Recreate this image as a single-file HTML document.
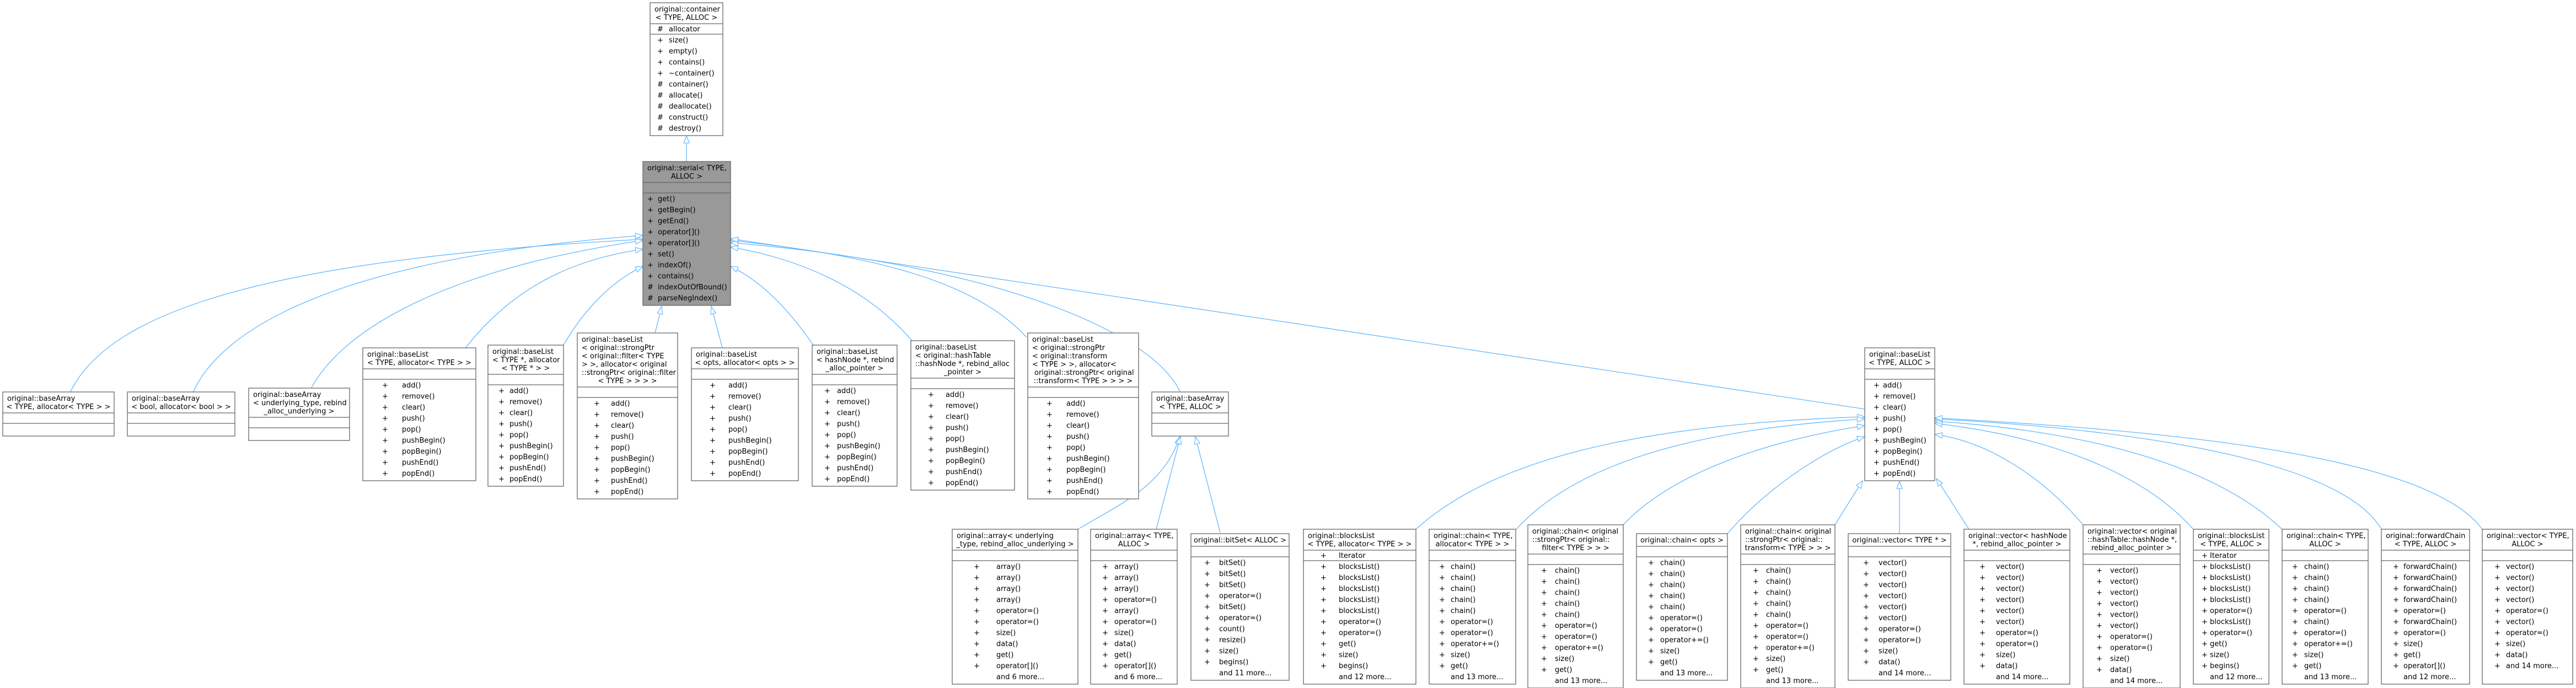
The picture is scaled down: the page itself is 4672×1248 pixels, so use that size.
<!DOCTYPE html>
<html><head><meta charset="utf-8"><style>
html,body{margin:0;padding:0;background:#fff;}
svg{display:block;}
text{font-family:"DejaVu Sans","Liberation Sans",sans-serif;font-size:13px;fill:#000;}
.b{fill:#fff;stroke:#666;stroke-width:1.3;}
.s{fill:#999;stroke:#666;stroke-width:1.3;}
.l{stroke:#666;stroke-width:1.3;}
.e{fill:none;stroke:#63b8ff;stroke-width:1.3;}
.c{text-anchor:middle;}
</style></head><body>
<svg width="4672" height="1248" viewBox="0 0 4672 1248" xmlns="http://www.w3.org/2000/svg">
<defs><marker id="a" markerUnits="userSpaceOnUse" markerWidth="16" markerHeight="12" refX="14" refY="5.5" orient="auto"><path d="M0.5,0.5 L14,5.5 L0.5,10.5 z" fill="#fff" stroke="#63b8ff" stroke-width="1.2"/></marker></defs>

<!-- edges -->
<g class="e" marker-end="url(#a)">
<path class="e" marker-end="url(#a)" d="M1245,293 L1245,246"/>
<path class="e" marker-end="url(#a)" d="M127,712 C200,560 500,470 1166,434"/>
<path class="e" marker-end="url(#a)" d="M350,712 C400,600 600,470 1166,427"/>
<path class="e" marker-end="url(#a)" d="M564,705 C620,600 800,490 1166,436"/>
<path class="e" marker-end="url(#a)" d="M842,634 C930,520 1040,470 1166,452"/>
<path class="e" marker-end="url(#a)" d="M1022,626 C1060,560 1110,510 1166,483"/>
<path class="e" marker-end="url(#a)" d="M1188,604 L1200,556"/>
<path class="e" marker-end="url(#a)" d="M1311,634 L1290,556"/>
<path class="e" marker-end="url(#a)" d="M1475,626 C1430,560 1380,510 1325,483"/>
<path class="e" marker-end="url(#a)" d="M1654,618 C1570,520 1450,470 1325,448"/>
<path class="e" marker-end="url(#a)" d="M1862,612 C1760,500 1550,460 1325,436"/>
<path class="e" marker-end="url(#a)" d="M2141,712 C2090,600 1800,480 1325,440"/>
<path class="e" marker-end="url(#a)" d="M3382,742 L1325,433"/>
<path class="e" marker-end="url(#a)" d="M1955,960 C2040,910 2110,880 2140,792"/>
<path class="e" marker-end="url(#a)" d="M2097,960 L2141,792"/>
<path class="e" marker-end="url(#a)" d="M2213,966 L2168,792"/>
<path class="e" marker-end="url(#a)" d="M2568,960 C2700,840 2950,770 3382,756"/>
<path class="e" marker-end="url(#a)" d="M2750,960 C2850,850 3050,780 3382,760"/>
<path class="e" marker-end="url(#a)" d="M2944,952 C3030,860 3200,800 3382,772"/>
<path class="e" marker-end="url(#a)" d="M3133,968 C3200,890 3300,820 3382,792"/>
<path class="e" marker-end="url(#a)" d="M3328,952 L3378,872"/>
<path class="e" marker-end="url(#a)" d="M3445,968 L3445,873"/>
<path class="e" marker-end="url(#a)" d="M3571,960 L3512,868"/>
<path class="e" marker-end="url(#a)" d="M3778,952 C3700,860 3600,800 3509,788"/>
<path class="e" marker-end="url(#a)" d="M3978,960 C3880,850 3700,790 3509,768"/>
<path class="e" marker-end="url(#a)" d="M4139,960 C4000,830 3750,780 3509,764"/>
<path class="e" marker-end="url(#a)" d="M4319,960 C4250,840 3900,780 3509,760"/>
<path class="e" marker-end="url(#a)" d="M4502,960 C4400,820 3900,780 3509,758"/>
</g>

<!-- container -->
<rect class="b" x="1179" y="5" width="132" height="241"/>
<line class="l" x1="1179" y1="43" x2="1311" y2="43"/><line class="l" x1="1179" y1="62" x2="1311" y2="62"/>
<text x="1187" y="21">original::container</text><text class="c" x="1245" y="36">&lt; TYPE, ALLOC &gt;</text>
<text x="1192" y="57">#</text><text x="1213" y="57">allocator</text>
<text><tspan x="1192" y="77">+</tspan><tspan x="1192" dy="20">+</tspan><tspan x="1192" dy="20">+</tspan><tspan x="1192" dy="20">+</tspan><tspan x="1192" dy="20">#</tspan><tspan x="1192" dy="20">#</tspan><tspan x="1192" dy="20">#</tspan><tspan x="1192" dy="20">#</tspan><tspan x="1192" dy="20">#</tspan></text>
<text><tspan x="1213" y="77">size()</tspan><tspan x="1213" dy="20">empty()</tspan><tspan x="1213" dy="20">contains()</tspan><tspan x="1213" dy="20">~container()</tspan><tspan x="1213" dy="20">container()</tspan><tspan x="1213" dy="20">allocate()</tspan><tspan x="1213" dy="20">deallocate()</tspan><tspan x="1213" dy="20">construct()</tspan><tspan x="1213" dy="20">destroy()</tspan></text>

<!-- serial -->
<rect class="s" x="1166" y="293" width="159" height="261"/>
<line class="l" x1="1166" y1="331" x2="1325" y2="331"/><line class="l" x1="1166" y1="350" x2="1325" y2="350"/>
<text x="1174" y="309">original::serial&lt; TYPE,</text><text class="c" x="1245.5" y="324">ALLOC &gt;</text>
<text><tspan x="1174" y="365">+</tspan><tspan x="1174" dy="20">+</tspan><tspan x="1174" dy="20">+</tspan><tspan x="1174" dy="20">+</tspan><tspan x="1174" dy="20">+</tspan><tspan x="1174" dy="20">+</tspan><tspan x="1174" dy="20">+</tspan><tspan x="1174" dy="20">+</tspan><tspan x="1174" dy="20">#</tspan><tspan x="1174" dy="20">#</tspan></text>
<text><tspan x="1193" y="365">get()</tspan><tspan x="1193" dy="20">getBegin()</tspan><tspan x="1193" dy="20">getEnd()</tspan><tspan x="1193" dy="20">operator[]()</tspan><tspan x="1193" dy="20">operator[]()</tspan><tspan x="1193" dy="20">set()</tspan><tspan x="1193" dy="20">indexOf()</tspan><tspan x="1193" dy="20">contains()</tspan><tspan x="1193" dy="20">indexOutOfBound()</tspan><tspan x="1193" dy="20">parseNegIndex()</tspan></text>

<!-- baseArray row1 -->
<rect class="b" x="5" y="711" width="202" height="80"/><line class="l" x1="5" y1="749" x2="207" y2="749"/><line class="l" x1="5" y1="768" x2="207" y2="768"/>
<text x="13" y="727">original::baseArray</text><text class="c" x="106" y="742">&lt; TYPE, allocator&lt; TYPE &gt; &gt;</text>
<rect class="b" x="231" y="711" width="195" height="80"/><line class="l" x1="231" y1="749" x2="426" y2="749"/><line class="l" x1="231" y1="768" x2="426" y2="768"/>
<text x="239" y="727">original::baseArray</text><text class="c" x="328.5" y="742">&lt; bool, allocator&lt; bool &gt; &gt;</text>
<rect class="b" x="451" y="704" width="183" height="95"/><line class="l" x1="451" y1="757" x2="634" y2="757"/><line class="l" x1="451" y1="776" x2="634" y2="776"/>
<text x="459" y="720">original::baseArray</text><text x="459" y="735">&lt; underlying_type, rebind</text><text class="c" x="542.5" y="750">_alloc_underlying &gt;</text>
<rect class="b" x="2089" y="711" width="139" height="80"/><line class="l" x1="2089" y1="749" x2="2228" y2="749"/><line class="l" x1="2089" y1="768" x2="2228" y2="768"/>
<text x="2097" y="727">original::baseArray</text><text class="c" x="2158.5" y="742">&lt; TYPE, ALLOC &gt;</text>

<!-- L1 -->
<rect class="b" x="658" y="631" width="205" height="241"/><line class="l" x1="658" y1="669" x2="863" y2="669"/><line class="l" x1="658" y1="688" x2="863" y2="688"/>
<text x="666" y="647">original::baseList</text><text class="c" x="760.5" y="662">&lt; TYPE, allocator&lt; TYPE &gt; &gt;</text>
<text><tspan x="693" y="703">+</tspan><tspan x="693" dy="20">+</tspan><tspan x="693" dy="20">+</tspan><tspan x="693" dy="20">+</tspan><tspan x="693" dy="20">+</tspan><tspan x="693" dy="20">+</tspan><tspan x="693" dy="20">+</tspan><tspan x="693" dy="20">+</tspan><tspan x="693" dy="20">+</tspan></text>
<text><tspan x="729" y="703">add()</tspan><tspan x="729" dy="20">remove()</tspan><tspan x="729" dy="20">clear()</tspan><tspan x="729" dy="20">push()</tspan><tspan x="729" dy="20">pop()</tspan><tspan x="729" dy="20">pushBegin()</tspan><tspan x="729" dy="20">popBegin()</tspan><tspan x="729" dy="20">pushEnd()</tspan><tspan x="729" dy="20">popEnd()</tspan></text>

<!-- L2 -->
<rect class="b" x="885" y="626" width="137" height="256"/><line class="l" x1="885" y1="679" x2="1022" y2="679"/><line class="l" x1="885" y1="698" x2="1022" y2="698"/>
<text x="893" y="642">original::baseList</text><text x="893" y="657">&lt; TYPE *, allocator</text><text class="c" x="953.5" y="672">&lt; TYPE * &gt; &gt;</text>
<text><tspan x="904" y="713">+</tspan><tspan x="904" dy="20">+</tspan><tspan x="904" dy="20">+</tspan><tspan x="904" dy="20">+</tspan><tspan x="904" dy="20">+</tspan><tspan x="904" dy="20">+</tspan><tspan x="904" dy="20">+</tspan><tspan x="904" dy="20">+</tspan><tspan x="904" dy="20">+</tspan></text>
<text><tspan x="924" y="713">add()</tspan><tspan x="924" dy="20">remove()</tspan><tspan x="924" dy="20">clear()</tspan><tspan x="924" dy="20">push()</tspan><tspan x="924" dy="20">pop()</tspan><tspan x="924" dy="20">pushBegin()</tspan><tspan x="924" dy="20">popBegin()</tspan><tspan x="924" dy="20">pushEnd()</tspan><tspan x="924" dy="20">popEnd()</tspan></text>

<!-- L3 -->
<rect class="b" x="1047" y="604" width="182" height="301"/><line class="l" x1="1047" y1="702" x2="1229" y2="702"/><line class="l" x1="1047" y1="721" x2="1229" y2="721"/>
<text x="1055" y="620">original::baseList</text><text x="1055" y="635">&lt; original::strongPtr</text><text x="1055" y="650">&lt; original::filter&lt; TYPE</text><text x="1055" y="665"> &gt; &gt;, allocator&lt; original</text><text x="1055" y="680">::strongPtr&lt; original::filter</text><text class="c" x="1138" y="695">&lt; TYPE &gt; &gt; &gt; &gt;</text>
<text><tspan x="1077" y="736">+</tspan><tspan x="1077" dy="20">+</tspan><tspan x="1077" dy="20">+</tspan><tspan x="1077" dy="20">+</tspan><tspan x="1077" dy="20">+</tspan><tspan x="1077" dy="20">+</tspan><tspan x="1077" dy="20">+</tspan><tspan x="1077" dy="20">+</tspan><tspan x="1077" dy="20">+</tspan></text>
<text><tspan x="1108" y="736">add()</tspan><tspan x="1108" dy="20">remove()</tspan><tspan x="1108" dy="20">clear()</tspan><tspan x="1108" dy="20">push()</tspan><tspan x="1108" dy="20">pop()</tspan><tspan x="1108" dy="20">pushBegin()</tspan><tspan x="1108" dy="20">popBegin()</tspan><tspan x="1108" dy="20">pushEnd()</tspan><tspan x="1108" dy="20">popEnd()</tspan></text>

<!-- L4 -->
<rect class="b" x="1254" y="631" width="194" height="241"/><line class="l" x1="1254" y1="669" x2="1448" y2="669"/><line class="l" x1="1254" y1="688" x2="1448" y2="688"/>
<text x="1262" y="647">original::baseList</text><text class="c" x="1351" y="662">&lt; opts, allocator&lt; opts &gt; &gt;</text>
<text><tspan x="1287" y="703">+</tspan><tspan x="1287" dy="20">+</tspan><tspan x="1287" dy="20">+</tspan><tspan x="1287" dy="20">+</tspan><tspan x="1287" dy="20">+</tspan><tspan x="1287" dy="20">+</tspan><tspan x="1287" dy="20">+</tspan><tspan x="1287" dy="20">+</tspan><tspan x="1287" dy="20">+</tspan></text>
<text><tspan x="1321" y="703">add()</tspan><tspan x="1321" dy="20">remove()</tspan><tspan x="1321" dy="20">clear()</tspan><tspan x="1321" dy="20">push()</tspan><tspan x="1321" dy="20">pop()</tspan><tspan x="1321" dy="20">pushBegin()</tspan><tspan x="1321" dy="20">popBegin()</tspan><tspan x="1321" dy="20">pushEnd()</tspan><tspan x="1321" dy="20">popEnd()</tspan></text>

<!-- L5 -->
<rect class="b" x="1473" y="626" width="154" height="256"/><line class="l" x1="1473" y1="679" x2="1627" y2="679"/><line class="l" x1="1473" y1="698" x2="1627" y2="698"/>
<text x="1481" y="642">original::baseList</text><text x="1481" y="657">&lt; hashNode *, rebind</text><text class="c" x="1550" y="672">_alloc_pointer &gt;</text>
<text><tspan x="1495" y="713">+</tspan><tspan x="1495" dy="20">+</tspan><tspan x="1495" dy="20">+</tspan><tspan x="1495" dy="20">+</tspan><tspan x="1495" dy="20">+</tspan><tspan x="1495" dy="20">+</tspan><tspan x="1495" dy="20">+</tspan><tspan x="1495" dy="20">+</tspan><tspan x="1495" dy="20">+</tspan></text>
<text><tspan x="1518" y="713">add()</tspan><tspan x="1518" dy="20">remove()</tspan><tspan x="1518" dy="20">clear()</tspan><tspan x="1518" dy="20">push()</tspan><tspan x="1518" dy="20">pop()</tspan><tspan x="1518" dy="20">pushBegin()</tspan><tspan x="1518" dy="20">popBegin()</tspan><tspan x="1518" dy="20">pushEnd()</tspan><tspan x="1518" dy="20">popEnd()</tspan></text>

<!-- L6 -->
<rect class="b" x="1652" y="618" width="188" height="271"/><line class="l" x1="1652" y1="686" x2="1840" y2="686"/><line class="l" x1="1652" y1="705" x2="1840" y2="705"/>
<text x="1660" y="634">original::baseList</text><text x="1660" y="649">&lt; original::hashTable</text><text x="1660" y="664">::hashNode *, rebind_alloc</text><text class="c" x="1746" y="679">_pointer &gt;</text>
<text><tspan x="1683" y="720">+</tspan><tspan x="1683" dy="20">+</tspan><tspan x="1683" dy="20">+</tspan><tspan x="1683" dy="20">+</tspan><tspan x="1683" dy="20">+</tspan><tspan x="1683" dy="20">+</tspan><tspan x="1683" dy="20">+</tspan><tspan x="1683" dy="20">+</tspan><tspan x="1683" dy="20">+</tspan></text>
<text><tspan x="1715" y="720">add()</tspan><tspan x="1715" dy="20">remove()</tspan><tspan x="1715" dy="20">clear()</tspan><tspan x="1715" dy="20">push()</tspan><tspan x="1715" dy="20">pop()</tspan><tspan x="1715" dy="20">pushBegin()</tspan><tspan x="1715" dy="20">popBegin()</tspan><tspan x="1715" dy="20">pushEnd()</tspan><tspan x="1715" dy="20">popEnd()</tspan></text>

<!-- L7 -->
<rect class="b" x="1864" y="604" width="201" height="301"/><line class="l" x1="1864" y1="702" x2="2065" y2="702"/><line class="l" x1="1864" y1="721" x2="2065" y2="721"/>
<text x="1872" y="620">original::baseList</text><text x="1872" y="635">&lt; original::strongPtr</text><text x="1872" y="650">&lt; original::transform</text><text x="1872" y="665">&lt; TYPE &gt; &gt;, allocator&lt;</text><text x="1876" y="680">original::strongPtr&lt; original</text><text class="c" x="1964.5" y="695">::transform&lt; TYPE &gt; &gt; &gt; &gt;</text>
<text><tspan x="1898" y="736">+</tspan><tspan x="1898" dy="20">+</tspan><tspan x="1898" dy="20">+</tspan><tspan x="1898" dy="20">+</tspan><tspan x="1898" dy="20">+</tspan><tspan x="1898" dy="20">+</tspan><tspan x="1898" dy="20">+</tspan><tspan x="1898" dy="20">+</tspan><tspan x="1898" dy="20">+</tspan></text>
<text><tspan x="1934" y="736">add()</tspan><tspan x="1934" dy="20">remove()</tspan><tspan x="1934" dy="20">clear()</tspan><tspan x="1934" dy="20">push()</tspan><tspan x="1934" dy="20">pop()</tspan><tspan x="1934" dy="20">pushBegin()</tspan><tspan x="1934" dy="20">popBegin()</tspan><tspan x="1934" dy="20">pushEnd()</tspan><tspan x="1934" dy="20">popEnd()</tspan></text>

<!-- BL -->
<rect class="b" x="3382" y="631" width="127" height="241"/><line class="l" x1="3382" y1="669" x2="3509" y2="669"/><line class="l" x1="3382" y1="688" x2="3509" y2="688"/>
<text x="3390" y="647">original::baseList</text><text class="c" x="3445.5" y="662">&lt; TYPE, ALLOC &gt;</text>
<text><tspan x="3398" y="703">+</tspan><tspan x="3398" dy="20">+</tspan><tspan x="3398" dy="20">+</tspan><tspan x="3398" dy="20">+</tspan><tspan x="3398" dy="20">+</tspan><tspan x="3398" dy="20">+</tspan><tspan x="3398" dy="20">+</tspan><tspan x="3398" dy="20">+</tspan><tspan x="3398" dy="20">+</tspan></text>
<text><tspan x="3415" y="703">add()</tspan><tspan x="3415" dy="20">remove()</tspan><tspan x="3415" dy="20">clear()</tspan><tspan x="3415" dy="20">push()</tspan><tspan x="3415" dy="20">pop()</tspan><tspan x="3415" dy="20">pushBegin()</tspan><tspan x="3415" dy="20">popBegin()</tspan><tspan x="3415" dy="20">pushEnd()</tspan><tspan x="3415" dy="20">popEnd()</tspan></text>

<!-- R1 array underlying -->
<rect class="b" x="1727" y="960" width="228" height="281"/><line class="l" x1="1727" y1="998" x2="1955" y2="998"/><line class="l" x1="1727" y1="1017" x2="1955" y2="1017"/>
<text x="1735" y="976">original::array&lt; underlying</text><text class="c" x="1841" y="991">_type, rebind_alloc_underlying &gt;</text>
<text><tspan x="1766" y="1032">+</tspan><tspan x="1766" dy="20">+</tspan><tspan x="1766" dy="20">+</tspan><tspan x="1766" dy="20">+</tspan><tspan x="1766" dy="20">+</tspan><tspan x="1766" dy="20">+</tspan><tspan x="1766" dy="20">+</tspan><tspan x="1766" dy="20">+</tspan><tspan x="1766" dy="20">+</tspan><tspan x="1766" dy="20">+</tspan></text>
<text><tspan x="1807" y="1032">array()</tspan><tspan x="1807" dy="20">array()</tspan><tspan x="1807" dy="20">array()</tspan><tspan x="1807" dy="20">array()</tspan><tspan x="1807" dy="20">operator=()</tspan><tspan x="1807" dy="20">operator=()</tspan><tspan x="1807" dy="20">size()</tspan><tspan x="1807" dy="20">data()</tspan><tspan x="1807" dy="20">get()</tspan><tspan x="1807" dy="20">operator[]()</tspan><tspan x="1807" dy="20">and 6 more...</tspan></text>

<!-- R2 array TYPE -->
<rect class="b" x="1978" y="960" width="157" height="281"/><line class="l" x1="1978" y1="998" x2="2135" y2="998"/><line class="l" x1="1978" y1="1017" x2="2135" y2="1017"/>
<text x="1986" y="976">original::array&lt; TYPE,</text><text class="c" x="2056.5" y="991">ALLOC &gt;</text>
<text><tspan x="1999" y="1032">+</tspan><tspan x="1999" dy="20">+</tspan><tspan x="1999" dy="20">+</tspan><tspan x="1999" dy="20">+</tspan><tspan x="1999" dy="20">+</tspan><tspan x="1999" dy="20">+</tspan><tspan x="1999" dy="20">+</tspan><tspan x="1999" dy="20">+</tspan><tspan x="1999" dy="20">+</tspan><tspan x="1999" dy="20">+</tspan></text>
<text><tspan x="2021" y="1032">array()</tspan><tspan x="2021" dy="20">array()</tspan><tspan x="2021" dy="20">array()</tspan><tspan x="2021" dy="20">operator=()</tspan><tspan x="2021" dy="20">array()</tspan><tspan x="2021" dy="20">operator=()</tspan><tspan x="2021" dy="20">size()</tspan><tspan x="2021" dy="20">data()</tspan><tspan x="2021" dy="20">get()</tspan><tspan x="2021" dy="20">operator[]()</tspan><tspan x="2021" dy="20">and 6 more...</tspan></text>

<!-- R3 bitSet -->
<rect class="b" x="2160" y="968" width="178" height="266"/><line class="l" x1="2160" y1="991" x2="2338" y2="991"/><line class="l" x1="2160" y1="1010" x2="2338" y2="1010"/>
<text class="c" x="2249" y="984">original::bitSet&lt; ALLOC &gt;</text>
<text><tspan x="2184" y="1025">+</tspan><tspan x="2184" dy="20">+</tspan><tspan x="2184" dy="20">+</tspan><tspan x="2184" dy="20">+</tspan><tspan x="2184" dy="20">+</tspan><tspan x="2184" dy="20">+</tspan><tspan x="2184" dy="20">+</tspan><tspan x="2184" dy="20">+</tspan><tspan x="2184" dy="20">+</tspan><tspan x="2184" dy="20">+</tspan></text>
<text><tspan x="2211" y="1025">bitSet()</tspan><tspan x="2211" dy="20">bitSet()</tspan><tspan x="2211" dy="20">bitSet()</tspan><tspan x="2211" dy="20">operator=()</tspan><tspan x="2211" dy="20">bitSet()</tspan><tspan x="2211" dy="20">operator=()</tspan><tspan x="2211" dy="20">count()</tspan><tspan x="2211" dy="20">resize()</tspan><tspan x="2211" dy="20">size()</tspan><tspan x="2211" dy="20">begins()</tspan><tspan x="2211" dy="20">and 11 more...</tspan></text>

<!-- R4 blocksList -->
<rect class="b" x="2364" y="960" width="204" height="281"/><line class="l" x1="2364" y1="998" x2="2568" y2="998"/><line class="l" x1="2364" y1="1017" x2="2568" y2="1017"/>
<text x="2372" y="976">original::blocksList</text><text class="c" x="2466" y="991">&lt; TYPE, allocator&lt; TYPE &gt; &gt;</text>
<text x="2395" y="1012">+</text><text x="2428" y="1012">Iterator</text>
<text><tspan x="2395" y="1032">+</tspan><tspan x="2395" dy="20">+</tspan><tspan x="2395" dy="20">+</tspan><tspan x="2395" dy="20">+</tspan><tspan x="2395" dy="20">+</tspan><tspan x="2395" dy="20">+</tspan><tspan x="2395" dy="20">+</tspan><tspan x="2395" dy="20">+</tspan><tspan x="2395" dy="20">+</tspan><tspan x="2395" dy="20">+</tspan></text>
<text><tspan x="2428" y="1032">blocksList()</tspan><tspan x="2428" dy="20">blocksList()</tspan><tspan x="2428" dy="20">blocksList()</tspan><tspan x="2428" dy="20">blocksList()</tspan><tspan x="2428" dy="20">blocksList()</tspan><tspan x="2428" dy="20">operator=()</tspan><tspan x="2428" dy="20">operator=()</tspan><tspan x="2428" dy="20">get()</tspan><tspan x="2428" dy="20">size()</tspan><tspan x="2428" dy="20">begins()</tspan><tspan x="2428" dy="20">and 12 more...</tspan></text>

<!-- R5 chain TYPE alloc -->
<rect class="b" x="2592" y="960" width="157" height="281"/><line class="l" x1="2592" y1="998" x2="2749" y2="998"/><line class="l" x1="2592" y1="1017" x2="2749" y2="1017"/>
<text x="2600" y="976">original::chain&lt; TYPE,</text><text class="c" x="2670.5" y="991">allocator&lt; TYPE &gt; &gt;</text>
<text><tspan x="2610" y="1032">+</tspan><tspan x="2610" dy="20">+</tspan><tspan x="2610" dy="20">+</tspan><tspan x="2610" dy="20">+</tspan><tspan x="2610" dy="20">+</tspan><tspan x="2610" dy="20">+</tspan><tspan x="2610" dy="20">+</tspan><tspan x="2610" dy="20">+</tspan><tspan x="2610" dy="20">+</tspan><tspan x="2610" dy="20">+</tspan></text>
<text><tspan x="2631" y="1032">chain()</tspan><tspan x="2631" dy="20">chain()</tspan><tspan x="2631" dy="20">chain()</tspan><tspan x="2631" dy="20">chain()</tspan><tspan x="2631" dy="20">chain()</tspan><tspan x="2631" dy="20">operator=()</tspan><tspan x="2631" dy="20">operator=()</tspan><tspan x="2631" dy="20">operator+=()</tspan><tspan x="2631" dy="20">size()</tspan><tspan x="2631" dy="20">get()</tspan><tspan x="2631" dy="20">and 13 more...</tspan></text>

<!-- R6 chain filter -->
<rect class="b" x="2771" y="952" width="173" height="296"/><line class="l" x1="2771" y1="1005" x2="2944" y2="1005"/><line class="l" x1="2771" y1="1024" x2="2944" y2="1024"/>
<text x="2779" y="968">original::chain&lt; original</text><text x="2779" y="983">::strongPtr&lt; original::</text><text class="c" x="2857.5" y="998">filter&lt; TYPE &gt; &gt; &gt;</text>
<text><tspan x="2795" y="1039">+</tspan><tspan x="2795" dy="20">+</tspan><tspan x="2795" dy="20">+</tspan><tspan x="2795" dy="20">+</tspan><tspan x="2795" dy="20">+</tspan><tspan x="2795" dy="20">+</tspan><tspan x="2795" dy="20">+</tspan><tspan x="2795" dy="20">+</tspan><tspan x="2795" dy="20">+</tspan><tspan x="2795" dy="20">+</tspan></text>
<text><tspan x="2820" y="1039">chain()</tspan><tspan x="2820" dy="20">chain()</tspan><tspan x="2820" dy="20">chain()</tspan><tspan x="2820" dy="20">chain()</tspan><tspan x="2820" dy="20">chain()</tspan><tspan x="2820" dy="20">operator=()</tspan><tspan x="2820" dy="20">operator=()</tspan><tspan x="2820" dy="20">operator+=()</tspan><tspan x="2820" dy="20">size()</tspan><tspan x="2820" dy="20">get()</tspan><tspan x="2820" dy="20">and 13 more...</tspan></text>

<!-- R7 chain opts -->
<rect class="b" x="2968" y="968" width="165" height="266"/><line class="l" x1="2968" y1="991" x2="3133" y2="991"/><line class="l" x1="2968" y1="1010" x2="3133" y2="1010"/>
<text class="c" x="3050.5" y="984">original::chain&lt; opts &gt;</text>
<text><tspan x="2989" y="1025">+</tspan><tspan x="2989" dy="20">+</tspan><tspan x="2989" dy="20">+</tspan><tspan x="2989" dy="20">+</tspan><tspan x="2989" dy="20">+</tspan><tspan x="2989" dy="20">+</tspan><tspan x="2989" dy="20">+</tspan><tspan x="2989" dy="20">+</tspan><tspan x="2989" dy="20">+</tspan><tspan x="2989" dy="20">+</tspan></text>
<text><tspan x="3011" y="1025">chain()</tspan><tspan x="3011" dy="20">chain()</tspan><tspan x="3011" dy="20">chain()</tspan><tspan x="3011" dy="20">chain()</tspan><tspan x="3011" dy="20">chain()</tspan><tspan x="3011" dy="20">operator=()</tspan><tspan x="3011" dy="20">operator=()</tspan><tspan x="3011" dy="20">operator+=()</tspan><tspan x="3011" dy="20">size()</tspan><tspan x="3011" dy="20">get()</tspan><tspan x="3011" dy="20">and 13 more...</tspan></text>

<!-- R8 chain transform -->
<rect class="b" x="3157" y="952" width="171" height="296"/><line class="l" x1="3157" y1="1005" x2="3328" y2="1005"/><line class="l" x1="3157" y1="1024" x2="3328" y2="1024"/>
<text x="3165" y="968">original::chain&lt; original</text><text x="3165" y="983">::strongPtr&lt; original::</text><text class="c" x="3242.5" y="998">transform&lt; TYPE &gt; &gt; &gt;</text>
<text><tspan x="3179" y="1039">+</tspan><tspan x="3179" dy="20">+</tspan><tspan x="3179" dy="20">+</tspan><tspan x="3179" dy="20">+</tspan><tspan x="3179" dy="20">+</tspan><tspan x="3179" dy="20">+</tspan><tspan x="3179" dy="20">+</tspan><tspan x="3179" dy="20">+</tspan><tspan x="3179" dy="20">+</tspan><tspan x="3179" dy="20">+</tspan></text>
<text><tspan x="3203" y="1039">chain()</tspan><tspan x="3203" dy="20">chain()</tspan><tspan x="3203" dy="20">chain()</tspan><tspan x="3203" dy="20">chain()</tspan><tspan x="3203" dy="20">chain()</tspan><tspan x="3203" dy="20">operator=()</tspan><tspan x="3203" dy="20">operator=()</tspan><tspan x="3203" dy="20">operator+=()</tspan><tspan x="3203" dy="20">size()</tspan><tspan x="3203" dy="20">get()</tspan><tspan x="3203" dy="20">and 13 more...</tspan></text>

<!-- R9 vector TYPE* -->
<rect class="b" x="3352" y="968" width="186" height="266"/><line class="l" x1="3352" y1="991" x2="3538" y2="991"/><line class="l" x1="3352" y1="1010" x2="3538" y2="1010"/>
<text class="c" x="3445" y="984">original::vector&lt; TYPE * &gt;</text>
<text><tspan x="3379" y="1025">+</tspan><tspan x="3379" dy="20">+</tspan><tspan x="3379" dy="20">+</tspan><tspan x="3379" dy="20">+</tspan><tspan x="3379" dy="20">+</tspan><tspan x="3379" dy="20">+</tspan><tspan x="3379" dy="20">+</tspan><tspan x="3379" dy="20">+</tspan><tspan x="3379" dy="20">+</tspan><tspan x="3379" dy="20">+</tspan></text>
<text><tspan x="3407" y="1025">vector()</tspan><tspan x="3407" dy="20">vector()</tspan><tspan x="3407" dy="20">vector()</tspan><tspan x="3407" dy="20">vector()</tspan><tspan x="3407" dy="20">vector()</tspan><tspan x="3407" dy="20">vector()</tspan><tspan x="3407" dy="20">operator=()</tspan><tspan x="3407" dy="20">operator=()</tspan><tspan x="3407" dy="20">size()</tspan><tspan x="3407" dy="20">data()</tspan><tspan x="3407" dy="20">and 14 more...</tspan></text>

<!-- R10 vector hashNode -->
<rect class="b" x="3562" y="960" width="192" height="281"/><line class="l" x1="3562" y1="998" x2="3754" y2="998"/><line class="l" x1="3562" y1="1017" x2="3754" y2="1017"/>
<text x="3570" y="976">original::vector&lt; hashNode</text><text class="c" x="3658" y="991">*, rebind_alloc_pointer &gt;</text>
<text><tspan x="3590" y="1032">+</tspan><tspan x="3590" dy="20">+</tspan><tspan x="3590" dy="20">+</tspan><tspan x="3590" dy="20">+</tspan><tspan x="3590" dy="20">+</tspan><tspan x="3590" dy="20">+</tspan><tspan x="3590" dy="20">+</tspan><tspan x="3590" dy="20">+</tspan><tspan x="3590" dy="20">+</tspan><tspan x="3590" dy="20">+</tspan></text>
<text><tspan x="3620" y="1032">vector()</tspan><tspan x="3620" dy="20">vector()</tspan><tspan x="3620" dy="20">vector()</tspan><tspan x="3620" dy="20">vector()</tspan><tspan x="3620" dy="20">vector()</tspan><tspan x="3620" dy="20">vector()</tspan><tspan x="3620" dy="20">operator=()</tspan><tspan x="3620" dy="20">operator=()</tspan><tspan x="3620" dy="20">size()</tspan><tspan x="3620" dy="20">data()</tspan><tspan x="3620" dy="20">and 14 more...</tspan></text>

<!-- R11 vector hashTable -->
<rect class="b" x="3778" y="952" width="176" height="296"/><line class="l" x1="3778" y1="1005" x2="3954" y2="1005"/><line class="l" x1="3778" y1="1024" x2="3954" y2="1024"/>
<text x="3786" y="968">original::vector&lt; original</text><text x="3786" y="983">::hashTable::hashNode *,</text><text class="c" x="3866" y="998">rebind_alloc_pointer &gt;</text>
<text><tspan x="3802" y="1039">+</tspan><tspan x="3802" dy="20">+</tspan><tspan x="3802" dy="20">+</tspan><tspan x="3802" dy="20">+</tspan><tspan x="3802" dy="20">+</tspan><tspan x="3802" dy="20">+</tspan><tspan x="3802" dy="20">+</tspan><tspan x="3802" dy="20">+</tspan><tspan x="3802" dy="20">+</tspan><tspan x="3802" dy="20">+</tspan></text>
<text><tspan x="3827" y="1039">vector()</tspan><tspan x="3827" dy="20">vector()</tspan><tspan x="3827" dy="20">vector()</tspan><tspan x="3827" dy="20">vector()</tspan><tspan x="3827" dy="20">vector()</tspan><tspan x="3827" dy="20">vector()</tspan><tspan x="3827" dy="20">operator=()</tspan><tspan x="3827" dy="20">operator=()</tspan><tspan x="3827" dy="20">size()</tspan><tspan x="3827" dy="20">data()</tspan><tspan x="3827" dy="20">and 14 more...</tspan></text>

<!-- R12 blocksList TYPE,ALLOC -->
<rect class="b" x="3978" y="960" width="137" height="281"/><line class="l" x1="3978" y1="998" x2="4115" y2="998"/><line class="l" x1="3978" y1="1017" x2="4115" y2="1017"/>
<text x="3986" y="976">original::blocksList</text><text class="c" x="4046.5" y="991">&lt; TYPE, ALLOC &gt;</text>
<text x="3993" y="1012">+</text><text x="4008" y="1012">Iterator</text>
<text><tspan x="3993" y="1032">+</tspan><tspan x="3993" dy="20">+</tspan><tspan x="3993" dy="20">+</tspan><tspan x="3993" dy="20">+</tspan><tspan x="3993" dy="20">+</tspan><tspan x="3993" dy="20">+</tspan><tspan x="3993" dy="20">+</tspan><tspan x="3993" dy="20">+</tspan><tspan x="3993" dy="20">+</tspan><tspan x="3993" dy="20">+</tspan></text>
<text><tspan x="4008" y="1032">blocksList()</tspan><tspan x="4008" dy="20">blocksList()</tspan><tspan x="4008" dy="20">blocksList()</tspan><tspan x="4008" dy="20">blocksList()</tspan><tspan x="4008" dy="20">operator=()</tspan><tspan x="4008" dy="20">blocksList()</tspan><tspan x="4008" dy="20">operator=()</tspan><tspan x="4008" dy="20">get()</tspan><tspan x="4008" dy="20">size()</tspan><tspan x="4008" dy="20">begins()</tspan><tspan x="4008" dy="20">and 12 more...</tspan></text>

<!-- R13 chain TYPE,ALLOC -->
<rect class="b" x="4139" y="960" width="156" height="281"/><line class="l" x1="4139" y1="998" x2="4295" y2="998"/><line class="l" x1="4139" y1="1017" x2="4295" y2="1017"/>
<text x="4147" y="976">original::chain&lt; TYPE,</text><text class="c" x="4217" y="991">ALLOC &gt;</text>
<text><tspan x="4157" y="1032">+</tspan><tspan x="4157" dy="20">+</tspan><tspan x="4157" dy="20">+</tspan><tspan x="4157" dy="20">+</tspan><tspan x="4157" dy="20">+</tspan><tspan x="4157" dy="20">+</tspan><tspan x="4157" dy="20">+</tspan><tspan x="4157" dy="20">+</tspan><tspan x="4157" dy="20">+</tspan><tspan x="4157" dy="20">+</tspan></text>
<text><tspan x="4179" y="1032">chain()</tspan><tspan x="4179" dy="20">chain()</tspan><tspan x="4179" dy="20">chain()</tspan><tspan x="4179" dy="20">chain()</tspan><tspan x="4179" dy="20">operator=()</tspan><tspan x="4179" dy="20">chain()</tspan><tspan x="4179" dy="20">operator=()</tspan><tspan x="4179" dy="20">operator+=()</tspan><tspan x="4179" dy="20">size()</tspan><tspan x="4179" dy="20">get()</tspan><tspan x="4179" dy="20">and 13 more...</tspan></text>

<!-- R14 forwardChain -->
<rect class="b" x="4319" y="960" width="160" height="281"/><line class="l" x1="4319" y1="998" x2="4479" y2="998"/><line class="l" x1="4319" y1="1017" x2="4479" y2="1017"/>
<text x="4327" y="976">original::forwardChain</text><text class="c" x="4399" y="991">&lt; TYPE, ALLOC &gt;</text>
<text><tspan x="4340" y="1032">+</tspan><tspan x="4340" dy="20">+</tspan><tspan x="4340" dy="20">+</tspan><tspan x="4340" dy="20">+</tspan><tspan x="4340" dy="20">+</tspan><tspan x="4340" dy="20">+</tspan><tspan x="4340" dy="20">+</tspan><tspan x="4340" dy="20">+</tspan><tspan x="4340" dy="20">+</tspan><tspan x="4340" dy="20">+</tspan></text>
<text><tspan x="4359" y="1032">forwardChain()</tspan><tspan x="4359" dy="20">forwardChain()</tspan><tspan x="4359" dy="20">forwardChain()</tspan><tspan x="4359" dy="20">forwardChain()</tspan><tspan x="4359" dy="20">operator=()</tspan><tspan x="4359" dy="20">forwardChain()</tspan><tspan x="4359" dy="20">operator=()</tspan><tspan x="4359" dy="20">size()</tspan><tspan x="4359" dy="20">get()</tspan><tspan x="4359" dy="20">operator[]()</tspan><tspan x="4359" dy="20">and 12 more...</tspan></text>

<!-- R15 vector TYPE,ALLOC -->
<rect class="b" x="4502" y="960" width="164" height="281"/><line class="l" x1="4502" y1="998" x2="4666" y2="998"/><line class="l" x1="4502" y1="1017" x2="4666" y2="1017"/>
<text x="4510" y="976">original::vector&lt; TYPE,</text><text class="c" x="4584" y="991">ALLOC &gt;</text>
<text><tspan x="4524" y="1032">+</tspan><tspan x="4524" dy="20">+</tspan><tspan x="4524" dy="20">+</tspan><tspan x="4524" dy="20">+</tspan><tspan x="4524" dy="20">+</tspan><tspan x="4524" dy="20">+</tspan><tspan x="4524" dy="20">+</tspan><tspan x="4524" dy="20">+</tspan><tspan x="4524" dy="20">+</tspan><tspan x="4524" dy="20">+</tspan></text>
<text><tspan x="4545" y="1032">vector()</tspan><tspan x="4545" dy="20">vector()</tspan><tspan x="4545" dy="20">vector()</tspan><tspan x="4545" dy="20">vector()</tspan><tspan x="4545" dy="20">operator=()</tspan><tspan x="4545" dy="20">vector()</tspan><tspan x="4545" dy="20">operator=()</tspan><tspan x="4545" dy="20">size()</tspan><tspan x="4545" dy="20">data()</tspan><tspan x="4545" dy="20">and 14 more...</tspan></text>
</svg>
</body></html>
